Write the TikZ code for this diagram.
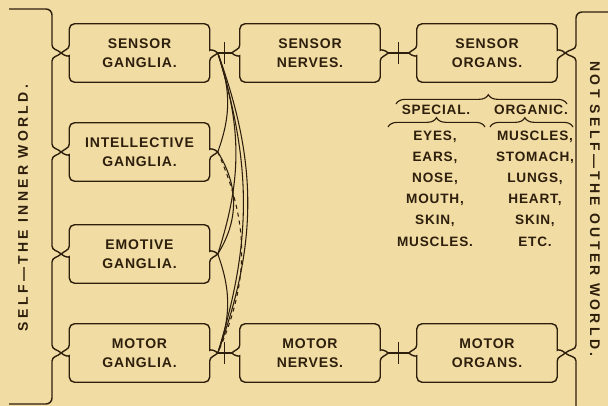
\documentclass[tikz,border=0pt]{standalone}
\usepackage{fontspec}
\usetikzlibrary{calc, decorations.pathreplacing}
\definecolor{plateink}{HTML}{2E1F0C}
\definecolor{platepaper}{HTML}{F1DCA4}
\newfontfamily\platefont[LetterSpace=6]{Liberation Sans}
\newfontfamily\sidefont[LetterSpace=24]{Liberation Sans}

\begin{document}
\begin{tikzpicture}[
    x=0.75pt, y=-0.75pt, color=plateink,
    organ/.style={
        minimum width=105pt, minimum height=43.5pt, inner sep=0pt,
        align=center, font=\platefont\bfseries\fontsize{10.5}{14.2}\selectfont
    },
    item/.style={inner sep=0pt, font=\platefont\bfseries\fontsize{10.2}{12}\selectfont},
    side/.style={inner sep=0pt, font=\sidefont\bfseries\fontsize{10.5}{12}\selectfont},
    outline/.style={line width=1.05pt},
    link/.style={line width=0.8pt},
    spanbrace/.style={decorate, decoration={brace, amplitude=7pt, aspect=#1}, line width=0.85pt},
]
\useasboundingbox (0,0) rectangle (608,406);
\fill[platepaper] (0,0) rectangle (608,406);

% ---- ganglia, top to bottom ----
\node[organ] (sg) at (139.5,53)  {SENSOR\\GANGLIA.};
\node[organ] (ig) at (139.5,152) {INTELLECTIVE\\GANGLIA.};
\node[organ] (eg) at (139.5,254) {EMOTIVE\\GANGLIA.};
\node[organ] (mg) at (139.5,353) {MOTOR\\GANGLIA.};

% ---- nerves and organs ----
\node[organ] (sn) at (310,53)  {SENSOR\\NERVES.};
\node[organ] (so) at (487,53)  {SENSOR\\ORGANS.};
\node[organ] (mn) at (310,353) {MOTOR\\NERVES.};
\node[organ] (mo) at (487,353) {MOTOR\\ORGANS.};

% ---- box outlines with pointed sides ----
\foreach \n in {sg,ig,eg,mg,sn,so,mn,mo} {
    \coordinate (\n-w) at ($(\n.west)+(-8,0)$);
    \coordinate (\n-e) at ($(\n.east)+(8,0)$);
    \draw[outline] (\n-w) to[out=45,in=-90] ($(\n.west)+(0,-8)$)
        [rounded corners=4pt] -- (\n.north west) -- (\n.north east) -- ($(\n.east)+(0,-8)$)
        [sharp corners] to[out=-90,in=135] (\n-e) to[out=-135,in=90] ($(\n.east)+(0,8)$)
        [rounded corners=4pt] -- (\n.south east) -- (\n.south west) -- ($(\n.west)+(0,8)$)
        [sharp corners] to[out=90,in=-45] (\n-w);
}

% ---- nerve links with cross ticks ----
\foreach \a/\b in {sg/sn, sn/so, mg/mn, mn/mo} {
    \draw[link] (\a-e) -- (\b-w);
    \draw[link] ($(\a-e)!0.5!(\b-w)$) ++(0,-11) -- ++(0,22);
}

% ---- arcs between the ganglia ----
\draw[link] (sg-e) to[bend left=20] (ig-e);
\draw[link] (sg-e) to[bend left=18] (eg-e);
\draw[link] (sg-e) to[bend left=17] (mg-e);
\draw[link] (sg-e) to[bend left=20] (mg-e);
\draw[link] (ig-e) to[bend left=32] (eg-e);
\draw[link, dashed] (ig-e) to[bend left=24] (mg-e);
\draw[link] (eg-e) to[bend left=20] (mg-e);

% ---- left bracket: self ----
\draw[outline] (9,9) -- (46,9) to[out=0,in=90] (52,15)
    -- (52,45) to[out=-90,in=135] (sg-w) to[out=-135,in=90] (52,61)
    -- (52,144) to[out=-90,in=135] (ig-w) to[out=-135,in=90] (52,160)
    -- (52,246) to[out=-90,in=135] (eg-w) to[out=-135,in=90] (52,262)
    -- (52,345) to[out=-90,in=135] (mg-w) to[out=-135,in=90] (52,361)
    -- (52,398) to[out=-90,in=0] (46,404) -- (9,404);

% ---- right bracket: not self ----
\draw[outline] (608,12) -- (582,12) to[out=180,in=90] (576,18)
    -- (576,45) to[out=-90,in=45] (so-e) to[out=-45,in=90] (576,61)
    -- (576,345) to[out=-90,in=45] (mo-e) to[out=-45,in=90] (576,361)
    -- (576,406);

\node[side, rotate=90]  (self)    at (23,208)  {SELF—THE INNER WORLD.};
\node[side, rotate=-90] (notself) at (595,209) {NOT SELF—THE OUTER WORLD.};

% ---- kinds of sensor organs ----
\node[item] (special) at (436,110) {SPECIAL.};
\node[item] (organic) at (531,110) {ORGANIC.};
\draw[spanbrace=0.54] (396,104) -- (567,104);
\draw[spanbrace=0.5]  (388,127) -- (485,127);
\draw[spanbrace=0.42] (490,127) -- (573,127);

\foreach \w [count=\i] in {{EYES,},{EARS,},{NOSE,},{MOUTH,},{SKIN,},{MUSCLES.}}
    \node[item] (sp\i) at (435,116+21*\i) {\w};
\foreach \w [count=\i] in {{MUSCLES,},{STOMACH,},{LUNGS,},{HEART,},{SKIN,},{ETC.}}
    \node[item] (or\i) at (535,116+21*\i) {\w};

\end{tikzpicture}
\end{document}
